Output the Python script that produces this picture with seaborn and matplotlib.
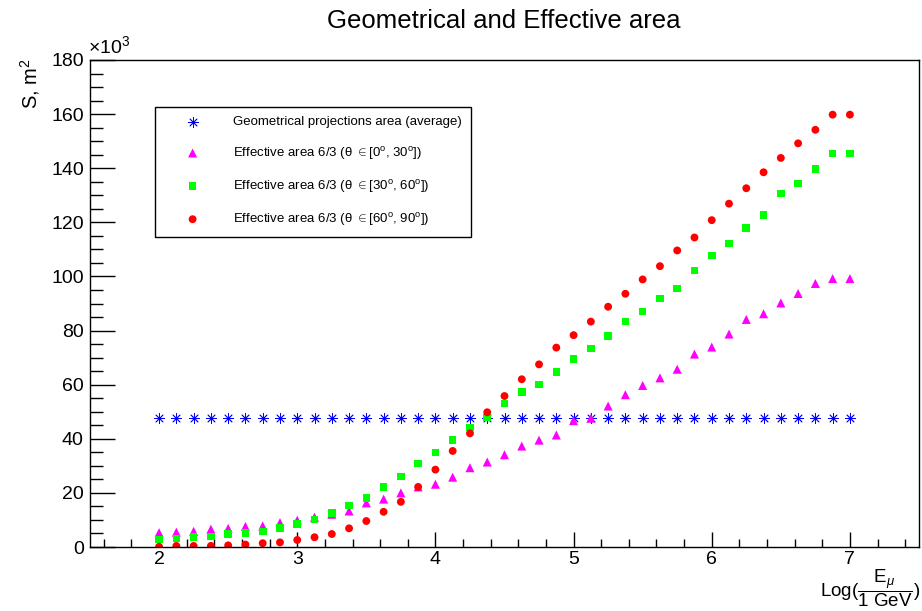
import pandas as pd
import seaborn as sns
import matplotlib.pyplot as plt
from matplotlib.ticker import MultipleLocator

# log10(E / 1 GeV)
log_e = [2.0, 2.125, 2.25, 2.375, 2.5, 2.625, 2.75, 2.875,
         3.0, 3.125, 3.25, 3.375, 3.5, 3.625, 3.75, 3.875,
         4.0, 4.125, 4.25, 4.375, 4.5, 4.625, 4.75, 4.875,
         5.0, 5.125, 5.25, 5.375, 5.5, 5.625, 5.75, 5.875,
         6.0, 6.125, 6.25, 6.375, 6.5, 6.625, 6.75, 6.875, 7.0]

# areas in 10^3 m^2
geom_area = [47.6, 47.6, 47.6, 47.6, 47.6, 47.6, 47.6, 47.6,
             47.6, 47.6, 47.6, 47.6, 47.6, 47.6, 47.6, 47.6,
             47.6, 47.6, 47.6, 47.6, 47.6, 47.6, 47.6, 47.6,
             47.6, 47.6, 47.6, 47.6, 47.6, 47.6, 47.6, 47.6,
             47.6, 47.6, 47.6, 47.6, 47.6, 47.6, 47.6, 47.6, 47.6]

eff_0_30 = [5.3, 5.5, 5.8, 6.6, 6.9, 7.6, 7.8, 9.0,
            9.9, 11.0, 12.1, 13.3, 16.3, 17.7, 20.0, 22.2,
            23.2, 25.8, 29.3, 31.4, 34.1, 37.3, 39.5, 41.4,
            46.7, 47.6, 52.1, 56.3, 59.7, 62.5, 65.7, 71.3,
            73.9, 78.7, 84.1, 86.2, 90.2, 93.7, 97.4, 99.2, 99.2]

eff_30_60 = [2.8, 3.1, 3.6, 3.9, 4.7, 5.2, 5.8, 7.0,
             8.6, 10.2, 12.6, 15.4, 18.0, 22.1, 26.0, 30.8,
             34.9, 39.5, 44.1, 47.9, 53.0, 57.3, 60.1, 64.7,
             69.5, 73.4, 78.0, 83.4, 87.1, 91.9, 95.6, 102.2,
             107.8, 112.2, 117.8, 122.8, 130.6, 134.3, 139.7, 145.5, 145.5]

eff_60_90 = [0.1, 0.4, 0.4, 0.4, 0.6, 0.9, 1.4, 1.7,
             2.6, 3.6, 4.8, 6.9, 9.6, 13.0, 16.7, 22.2,
             28.6, 35.5, 42.0, 49.8, 55.8, 62.0, 67.5, 73.7,
             78.3, 83.3, 88.8, 93.6, 98.9, 103.8, 109.6, 114.4,
             120.8, 126.9, 132.6, 138.5, 143.8, 149.2, 154.2, 159.8, 159.8]

labels = ["Geometrical projections area (average)",
          r"Effective area 6/3 ($\mathrm{\theta}$ $\in$[0$^{\mathrm{o}}$, 30$^{\mathrm{o}}$])",
          r"Effective area 6/3 ($\mathrm{\theta}$ $\in$[30$^{\mathrm{o}}$, 60$^{\mathrm{o}}$])",
          r"Effective area 6/3 ($\mathrm{\theta}$ $\in$[60$^{\mathrm{o}}$, 90$^{\mathrm{o}}$])"]

df = pd.DataFrame({"logE": log_e, "geom": geom_area, "a0": eff_0_30,
                   "a30": eff_30_60, "a60": eff_60_90})

sns.set_style("ticks")
plt.rcParams['font.family'] = ['Liberation Sans', 'DejaVu Sans']
plt.rcParams['mathtext.fontset'] = 'custom'
plt.rcParams['mathtext.rm'] = 'Liberation Sans'
plt.rcParams['mathtext.it'] = 'Liberation Sans:italic'
plt.rcParams['mathtext.sf'] = 'Liberation Sans'
for k in ['text.color', 'axes.labelcolor', 'xtick.color', 'ytick.color']:
    plt.rcParams[k] = 'black'

fig = plt.figure(figsize=(9.22, 6.11), dpi=100)
ax = fig.add_axes([90 / 922, 1 - 547 / 611, 829 / 922, 487 / 611])

# one call per series so each keeps its own marker
sns.scatterplot(data=df, x="logE", y="geom", ax=ax, marker=(8, 2, 0), s=50,
                color="#0000ff", edgecolor="#0000ff", linewidth=0.6, label=labels[0])
sns.scatterplot(data=df, x="logE", y="a0", ax=ax, marker="^", s=42,
                color="#ff00ff", edgecolor="none", linewidth=0, label=labels[1])
sns.scatterplot(data=df, x="logE", y="a30", ax=ax, marker="s", s=30,
                color="#00ff00", edgecolor="none", linewidth=0, label=labels[2])
sns.scatterplot(data=df, x="logE", y="a60", ax=ax, marker="o", s=32,
                color="#ff0000", edgecolor="none", linewidth=0, label=labels[3])

ax.set_xlim(1.5, 7.5)
ax.set_ylim(0, 180)
ax.xaxis.set_major_locator(MultipleLocator(1))
ax.xaxis.set_minor_locator(MultipleLocator(0.2))
ax.yaxis.set_major_locator(MultipleLocator(20))
ax.yaxis.set_minor_locator(MultipleLocator(5))

ax.tick_params(axis='y', which='major', direction='in', length=18, width=1,
               labelsize=14, pad=4.5, right=False)
ax.tick_params(axis='y', which='minor', direction='in', length=9, width=1, right=False)
ax.tick_params(axis='x', which='major', direction='in', length=10.5, width=1,
               labelsize=14, pad=3, top=False)
ax.tick_params(axis='x', which='minor', direction='in', length=5.5, width=1, top=False)

for sp in ax.spines.values():
    sp.set_visible(True)
    sp.set_color('black')
    sp.set_linewidth(1)

ax.set_xlabel("")
ax.set_ylabel("")

ax.text(-0.003, 1.006, r"$\times$10$^{3}$", transform=ax.transAxes,
        ha='left', va='bottom', fontsize=14)
fig.text(504 / 922, 1 - 21 / 611, "Geometrical and Effective area",
         ha='center', va='center', fontsize=18.5)
fig.text(30 / 922, 1 - 58 / 611, r"S, m$^{2}$", rotation=90,
         ha='center', va='top', fontsize=14.5)
fig.text(920 / 922, 1 - 609 / 611, r"Log($\dfrac{\mathrm{E}_{\mu}}{\mathrm{1\ GeV}}$)",
         ha='right', va='bottom', fontsize=13.5)

leg = ax.legend(loc='upper left', bbox_to_anchor=(155 / 922, 1 - 107 / 611),
                bbox_transform=fig.transFigure, borderaxespad=0, fontsize=9.5,
                frameon=True, fancybox=False, framealpha=1, edgecolor='black',
                handlelength=4.3, handletextpad=0.9, borderpad=0.7,
                labelspacing=1.22, scatterpoints=1)
leg.get_frame().set_linewidth(1)

plt.savefig("out.png", dpi=100)
